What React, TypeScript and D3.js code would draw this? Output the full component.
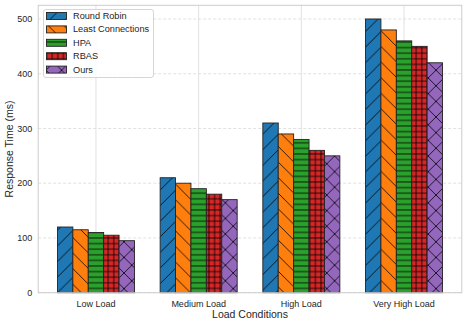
import React from "react";
import * as d3 from "d3";

const categories = ["Low Load", "Medium Load", "High Load", "Very High Load"];
const seriesNames = ["Round Robin", "Least Connections", "HPA", "RBAS", "Ours"];
const roundRobin = [120, 210, 310, 500];
const leastConnections = [115, 200, 290, 480];
const hpa = [110, 190, 280, 460];
const rbas = [105, 180, 260, 450];
const ours = [95, 170, 250, 420];
const yTicks = [0, 100, 200, 300, 400, 500];
const colors = ["#1f77b4", "#ff7f0e", "#2ca02c", "#d62728", "#9467bd"];
const hatches = ["/", "\\", "-", "+", "x"];

const seriesValues = [roundRobin, leastConnections, hpa, rbas, ours];

const W = 467;
const H = 325;
const left = 38.2;
const right = 461.8;
const top = 5.3;
const bottom = 292.7;
const FONT = "'Liberation Sans', Arial, sans-serif";
const TEXT = "#262626";
const GRID = "#d9d9d9";

function hatchPath(h: string, p: number): string {
  if (h === "/") {
    return `M0,${p} L${p},0 M${-p / 2},${p / 2} L${p / 2},${-p / 2} M${p / 2},${p * 1.5} L${p * 1.5},${p / 2}`;
  }
  if (h === "\\") {
    return `M0,0 L${p},${p} M${-p / 2},${p / 2} L${p / 2},${p * 1.5} M${p / 2},${-p / 2} L${p * 1.5},${p / 2}`;
  }
  if (h === "-") {
    return `M0,${p / 2} L${p},${p / 2}`;
  }
  if (h === "+") {
    return `M0,${p / 2} L${p},${p / 2} M${p / 2},0 L${p / 2},${p}`;
  }
  // x
  return `M0,${p} L${p},0 M${-p / 2},${p / 2} L${p / 2},${-p / 2} M${p / 2},${p * 1.5} L${p * 1.5},${p / 2} M0,0 L${p},${p} M${-p / 2},${p / 2} L${p / 2},${p * 1.5} M${p / 2},${-p / 2} L${p * 1.5},${p / 2}`;
}

function hatchPeriod(h: string): number {
  return h === "-" || h === "+" ? 5.6 : 15.6;
}

export default function App() {
  const x0 = d3
    .scaleBand<string>()
    .domain(categories)
    .range([left, right])
    .paddingInner(0.25)
    .paddingOuter(0.1875);
  const x1 = d3
    .scaleBand<string>()
    .domain(seriesNames)
    .range([0, x0.bandwidth()])
    .padding(0);
  const y = d3.scaleLinear().domain([0, 525]).range([bottom, top]);

  const legendX = 43.5;
  const legendY = 9.5;
  const rowH = 13.4;

  return (
    <svg
      width={W}
      height={H}
      style={{ position: "absolute", left: 0, top: 0, background: "#fff" }}
      fontFamily={FONT}
    >
      <defs>
        {seriesNames.map((s, i) => {
          const p = hatchPeriod(hatches[i]);
          return (
            <pattern
              key={s}
              id={`hatch${i}`}
              patternUnits="userSpaceOnUse"
              width={p}
              height={p}
              x={left}
              y={0}
            >
              <rect width={p} height={p} fill={colors[i]} />
              <path d={hatchPath(hatches[i], p)} stroke="#000" strokeWidth={0.8} fill="none" />
            </pattern>
          );
        })}
      </defs>
      <rect x={0} y={0} width={W} height={H} fill="#fff" />
      {/* grid */}
      {yTicks.map((t) => (
        <line
          key={`gy${t}`}
          x1={left}
          x2={right}
          y1={y(t)}
          y2={y(t)}
          stroke={GRID}
          strokeWidth={0.8}
          strokeDasharray="3,2"
        />
      ))}
      {categories.map((c) => {
        const cx = (x0(c) as number) + x0.bandwidth() / 2;
        return (
          <line key={`gx${c}`} x1={cx} x2={cx} y1={top} y2={bottom} stroke={GRID} strokeWidth={0.8} />
        );
      })}
      {/* bars */}
      {seriesNames.map((s, i) =>
        categories.map((c, j) => {
          const v = seriesValues[i][j];
          const bx = (x0(c) as number) + (x1(s) as number);
          return (
            <rect
              key={`${s}-${c}`}
              x={bx}
              y={y(v)}
              width={x1.bandwidth()}
              height={y(0) - y(v)}
              fill={`url(#hatch${i})`}
              stroke="#222"
              strokeWidth={0.9}
            />
          );
        })
      )}
      {/* spines */}
      <rect x={left} y={top} width={right - left} height={bottom - top} fill="none" stroke="#cccccc" strokeWidth={1} />
      {/* y ticks */}
      {yTicks.map((t) => (
        <text
          key={`yt${t}`}
          x={left - 6}
          y={y(t)}
          dy="0.35em"
          textAnchor="end"
          fontSize={9}
          fill={TEXT}
        >
          {t}
        </text>
      ))}
      {/* x ticks */}
      {categories.map((c) => (
        <text
          key={`xt${c}`}
          x={(x0(c) as number) + x0.bandwidth() / 2}
          y={bottom + 14}
          textAnchor="middle"
          fontSize={9}
          fill={TEXT}
        >
          {c}
        </text>
      ))}
      <text x={(left + right) / 2} y={bottom + 25.5} textAnchor="middle" fontSize={10.5} fill={TEXT}>
        Load Conditions
      </text>
      <text
        transform={`translate(13,${(top + bottom) / 2}) rotate(-90)`}
        textAnchor="middle"
        fontSize={10.5}
        fill={TEXT}
      >
        Response Time (ms)
      </text>
      {/* legend */}
      <rect
        x={legendX}
        y={legendY}
        width={110}
        height={68}
        rx={2.5}
        fill="#fff"
        fillOpacity={0.8}
        stroke="#cccccc"
        strokeWidth={0.8}
      />
      {seriesNames.map((s, i) => {
        const cy = legendY + 6.3 + i * rowH;
        return (
          <g key={`lg${s}`}>
            <rect
              x={46.5}
              y={cy - 3.3}
              width={20}
              height={7}
              fill={`url(#hatch${i})`}
              stroke="#222"
              strokeWidth={0.9}
            />
            <text x={73} y={cy} dy="0.35em" fontSize={9.2} fill={TEXT}>
              {s}
            </text>
          </g>
        );
      })}
    </svg>
  );
}
